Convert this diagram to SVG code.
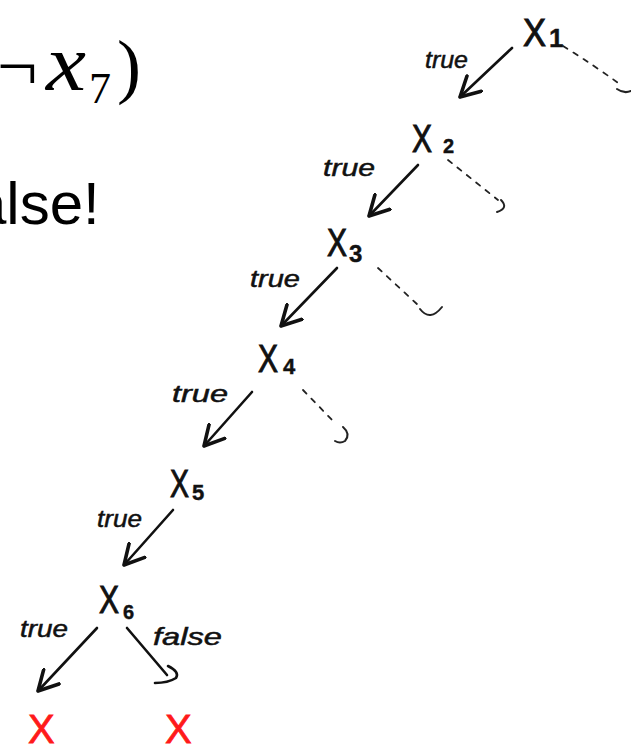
<svg xmlns="http://www.w3.org/2000/svg" width="631" height="751" viewBox="0 0 631 751">
<style>
.math{font-family:"Liberation Serif","DejaVu Serif",serif;fill:#000}
.big{font-family:"Liberation Sans",Arial,sans-serif;font-size:60px;fill:#000}
.node{font-family:"Liberation Sans",Arial,sans-serif;fill:#111;font-size:38px;stroke:#111;stroke-width:1}
.sub{font-weight:bold;stroke-width:0.4}
.lbl{font-family:"Liberation Sans",Arial,sans-serif;fill:#111;font-size:24px;font-style:italic;stroke:#111;stroke-width:0.5}
.red{font-family:"Liberation Sans",Arial,sans-serif;fill:#ff1a1a;font-size:40px;stroke:#ff1a1a;stroke-width:0.8}
.arr{fill:none;stroke:#111;stroke-width:2.6;stroke-linecap:round;stroke-linejoin:round}
.dash{fill:none;stroke:#222;stroke-width:1.8;stroke-dasharray:5 7;stroke-linecap:round}
.hook{fill:none;stroke:#222;stroke-width:2;stroke-linecap:round}
</style>
<defs>
<marker id="ah" markerUnits="userSpaceOnUse" markerWidth="24" markerHeight="24" refX="14" refY="8" orient="auto" viewBox="0 0 16 16">
<path d="M1,1 L14,8 L1,15" fill="none" stroke="#111" stroke-width="2.4" stroke-linecap="round" stroke-linejoin="round"/>
</marker>
</defs>

<g id="title">
<text class="math" y="90" font-size="72"><tspan x="-3">¬</tspan><tspan x="46" font-style="italic" font-size="80" textLength="40" lengthAdjust="spacingAndGlyphs">x</tspan><tspan x="89" y="103" font-size="44">7</tspan><tspan x="117" y="90">)</tspan></text>
<text class="big" x="-27" y="224">alse!</text>
</g>

<g id="connectors">
<path class="arr" d="M512,48 L460,97" marker-end="url(#ah)"/>
<path class="dash" d="M563,46 Q595,66 621,85"/>
<path class="hook" d="M617,89 q7,5 14,2"/>

<path class="arr" d="M418,165 L369,216" marker-end="url(#ah)"/>
<path class="dash" d="M448,160 L498,200"/>
<path class="hook" d="M501,200 q8,8 -4,12"/>

<path class="arr" d="M337,268 L281,326" marker-end="url(#ah)"/>
<path class="dash" d="M378,268 L418,305"/>
<path class="hook" d="M420,309 q10,13 22,-2"/>

<path class="arr" d="M252,392 L204,446" marker-end="url(#ah)"/>
<path class="dash" d="M303,390 L335,423"/>
<path class="hook" d="M343,427 q8,7 2,14 q-5,3 -10,0"/>

<path class="arr" d="M173,510 L124,565" marker-end="url(#ah)"/>

<path class="arr" d="M97,628 L38,691" marker-end="url(#ah)"/>
<path class="arr" d="M127,628 L167,675"/>
<path class="arr" d="M168,666 q12,6 8,12 q-8,5 -21,5"/>
</g>

<g id="x1"><text class="node"><tspan x="523" y="46" textLength="23" lengthAdjust="spacingAndGlyphs">X</tspan><tspan class="sub" x="549" y="47" font-size="26">1</tspan></text></g>
<g id="x2"><text class="node"><tspan x="412" y="152" textLength="20" lengthAdjust="spacingAndGlyphs">X</tspan><tspan class="sub" x="443" y="153" font-size="20">2</tspan></text></g>
<g id="x3"><text class="node"><tspan x="327" y="256" textLength="20" lengthAdjust="spacingAndGlyphs">X</tspan><tspan class="sub" x="349" y="262" font-size="24">3</tspan></text></g>
<g id="x4"><text class="node"><tspan x="258" y="372" textLength="20" lengthAdjust="spacingAndGlyphs">X</tspan><tspan class="sub" x="283" y="374" font-size="22">4</tspan></text></g>
<g id="x5"><text class="node"><tspan x="170" y="497" textLength="19" lengthAdjust="spacingAndGlyphs">X</tspan><tspan class="sub" x="192" y="500" font-size="22">5</tspan></text></g>
<g id="x6"><text class="node"><tspan x="99" y="613" textLength="20" lengthAdjust="spacingAndGlyphs">X</tspan><tspan class="sub" x="123" y="619" font-size="20">6</tspan></text></g>

<g id="labels">
<text class="lbl" x="425" y="68" textLength="43" lengthAdjust="spacingAndGlyphs">true</text>
<text class="lbl" x="323" y="176" textLength="52" lengthAdjust="spacingAndGlyphs">true</text>
<text class="lbl" x="250" y="287" textLength="50" lengthAdjust="spacingAndGlyphs">true</text>
<text class="lbl" x="172" y="402" font-size="28" textLength="56" lengthAdjust="spacingAndGlyphs">true</text>
<text class="lbl" x="97" y="527" textLength="45" lengthAdjust="spacingAndGlyphs">true</text>
<text class="lbl" x="20" y="637" textLength="48" lengthAdjust="spacingAndGlyphs">true</text>
<text class="lbl" x="153" y="645" font-size="26" textLength="69" lengthAdjust="spacingAndGlyphs">false</text>
</g>

<g id="leaf-true"><text class="red" x="28" y="743">X</text></g>
<g id="leaf-false"><text class="red" x="165" y="743">X</text></g>
</svg>
